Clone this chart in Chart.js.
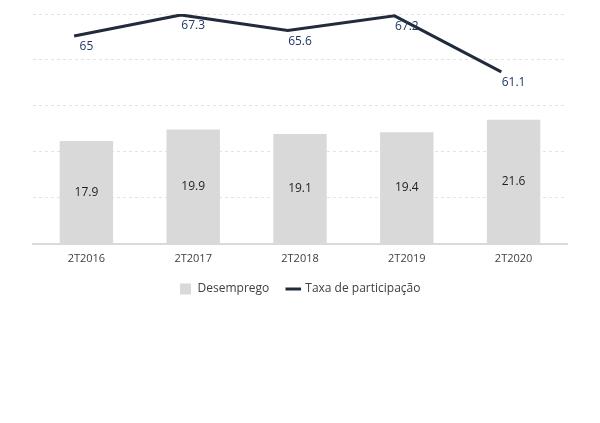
<!DOCTYPE html>
<html lang="pt">
  <head>
    <meta charset="UTF-8" />
    <title>Desemprego e Taxa de participação</title>
    <script src="https://cdn.jsdelivr.net/npm/chart.js"></script>
    <style>
      html, body { margin: 0; padding: 0; background: #fff; }
      .wrap { width: 600px; height: 423px; position: relative; }
    </style>
  </head>
  <body>
    <div class="wrap"><canvas id="chart"></canvas></div>
    <script>
      const categories = ['2T2016', '2T2017', '2T2018', '2T2019', '2T2020'];
      const desemprego = [17.9, 19.9, 19.1, 19.4, 21.6];
      const participacao = [65, 67.3, 65.6, 67.2, 61.1];

      // rótulos de dados desenhados a partir das posições calculadas pelo Chart.js
      const valueLabels = {
        id: 'valueLabels',
        afterDatasetsDraw(chart) {
          const ctx = chart.ctx;
          const bars = chart.getDatasetMeta(0).data;
          const pts = chart.getDatasetMeta(1).data;
          ctx.save();
          ctx.font = '12px "Open Sans"';
          ctx.textAlign = 'center';
          ctx.textBaseline = 'middle';
          bars.forEach((bar, i) => {
            ctx.fillStyle = '#1e1e1e';
            ctx.fillText(String(desemprego[i]), bar.x, (bar.y + bar.base) / 2);
          });
          pts.forEach((pt, i) => {
            ctx.fillStyle = '#1f3864';
            ctx.fillText(String(participacao[i]), bars[i].x, pt.y + 11);
          });
          ctx.restore();
        },
      };

      new Chart(document.getElementById('chart'), {
        type: 'bar',
        data: {
          labels: categories,
          datasets: [
            {
              type: 'bar',
              label: 'Desemprego',
              data: desemprego,
              backgroundColor: '#d9d9d9',
              barPercentage: 0.5,
              categoryPercentage: 1,
              grouped: false,
              xAxisID: 'x',
              yAxisID: 'y',
            },
            {
              type: 'line',
              label: 'Taxa de participação',
              data: participacao.map((v, i) => ({ x: i, y: v })),
              borderColor: '#222b3c',
              backgroundColor: '#222b3c',
              borderWidth: 3,
              pointRadius: 0,
              tension: 0,
              xAxisID: 'x2',
              yAxisID: 'y2',
            },
          ],
        },
        options: {
          responsive: true,
          maintainAspectRatio: false,
          animation: false,
          layout: { padding: { left: 33, right: 33, top: 14, bottom: 118 } },
          plugins: {
            legend: {
              position: 'bottom',
              labels: {
                usePointStyle: true,
                boxHeight: 11,
                padding: 18,
                color: '#404040',
                font: { family: 'Open Sans', size: 12 },
                sort: (a, b) => a.datasetIndex - b.datasetIndex,
                generateLabels(chart) {
                  const items = Chart.defaults.plugins.legend.labels.generateLabels(chart);
                  items.forEach((it) => {
                    if (it.datasetIndex === 0) {
                      it.pointStyle = 'rect';
                      it.lineWidth = 0;
                    } else {
                      it.pointStyle = 'line';
                      it.lineWidth = 3;
                    }
                  });
                  return items;
                },
              },
            },
            tooltip: { enabled: false },
          },
          scales: {
            x: {
              type: 'category',
              offset: true,
              grid: { display: false },
              border: { display: true, color: '#d9d9d9', width: 2 },
              ticks: { color: '#404040', font: { family: 'Open Sans', size: 11 }, padding: 0 },
            },
            x2: {
              type: 'linear',
              display: false,
              offset: false,
              min: -0.385,
              max: 4.615,
            },
            y: {
              min: 0,
              max: 40,
              ticks: { display: false, stepSize: 8 },
              border: { display: false, dash: [3, 3] },
              grid: {
                drawTicks: false,
                color: (c) => (c.tick && c.tick.value === 0 ? 'rgba(0,0,0,0)' : '#e3e3e3'),
              },
            },
            y2: {
              position: 'right',
              display: false,
              offset: false,
              min: 42.4,
              max: 67.4,
            },
          },
        },
        plugins: [valueLabels],
      });
    </script>
  </body>
</html>
